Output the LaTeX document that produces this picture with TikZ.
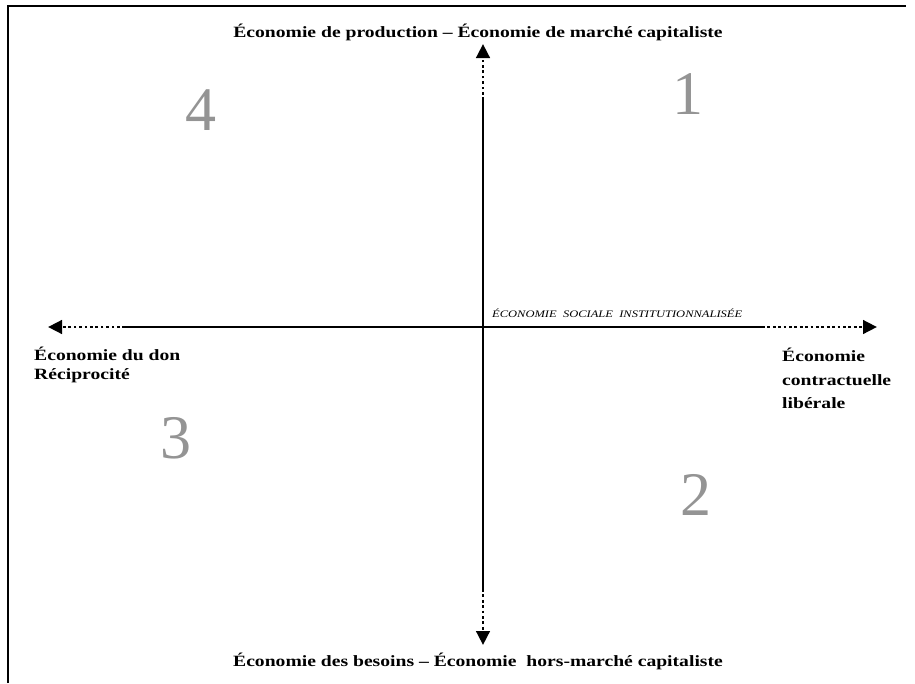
\documentclass[tikz,border=0pt]{standalone}
\usepackage{fontspec}
\setmainfont{Liberation Serif}
\newfontfamily\widerm{Liberation Serif}[FakeStretch=1.25]
\usetikzlibrary{arrows.meta}
\begin{document}
\begin{tikzpicture}[x=1pt,y=-1pt,
  solidaxis/.style={line width=2.8pt},
  dotaxis/.style={line width=2.8pt,dash pattern=on 2.7pt off 2.7pt},
  tipped/.style={-{Triangle[length=14pt,width=13.5pt]}},
  axlabel/.style={font=\widerm\bfseries\fontsize{15.7}{20}\selectfont,inner sep=0pt,align=left},
  quad/.style={font=\fontsize{62}{62}\selectfont,text=black!42,inner sep=0pt},
  frameline/.style={line width=2pt}]
\useasboundingbox (0,0) rectangle (915,683);
% frame
\coordinate (fbl) at (8,683);
\coordinate (ftl) at (8,5.5);
\coordinate (ftr) at (906,5.5);
\draw[frameline] (fbl) -- (ftl) -- (ftr);
% axes coordinates
\coordinate (o) at (483,327);
\coordinate (vtop) at (483,44);
\coordinate (vtopd) at (483,100);
\coordinate (vbot) at (483,645);
\coordinate (vbotd) at (483,589);
\coordinate (hleft) at (48,327);
\coordinate (hleftd) at (125,327);
\coordinate (hright) at (877,327);
\coordinate (hrightd) at (762,327);
% vertical axis
\draw[solidaxis] (vtopd) -- (vbotd);
\draw[dotaxis,tipped] (vtopd) -- (vtop);
\draw[dotaxis,tipped] (vbotd) -- (vbot);
% horizontal axis
\draw[solidaxis] (hleftd) -- (hrightd);
\draw[dotaxis,tipped] (hleftd) -- (hleft);
\draw[dotaxis,tipped] (hrightd) -- (hright);
% labels
\node[axlabel] (top) at (478,32) {Économie de production – Économie de marché capitaliste};
\node[axlabel] (bot) at (478,661) {Économie des besoins – Économie \ hors-marché capitaliste};
\node[axlabel,anchor=north west,font=\widerm\bfseries\fontsize{15.7}{18.5}\selectfont] (left) at (34,347) {Économie du don\\Réciprocité};
\node[axlabel,anchor=north west,font=\widerm\bfseries\fontsize{15.7}{23.5}\selectfont] (right) at (782,348) {Économie\\contractuelle\\libérale};
\node[font=\widerm\itshape\fontsize{10}{11}\selectfont,inner sep=0pt,anchor=base west] (ess) at (492,317) {ÉCONOMIE \ SOCIALE \ INSTITUTIONNALISÉE};
% quadrant numbers
\node[quad] (q1) at (688,94) {1};
\node[quad] (q2) at (696,495) {2};
\node[quad] (q3) at (176,438) {3};
\node[quad] (q4) at (201,110) {4};
\end{tikzpicture}
\end{document}
